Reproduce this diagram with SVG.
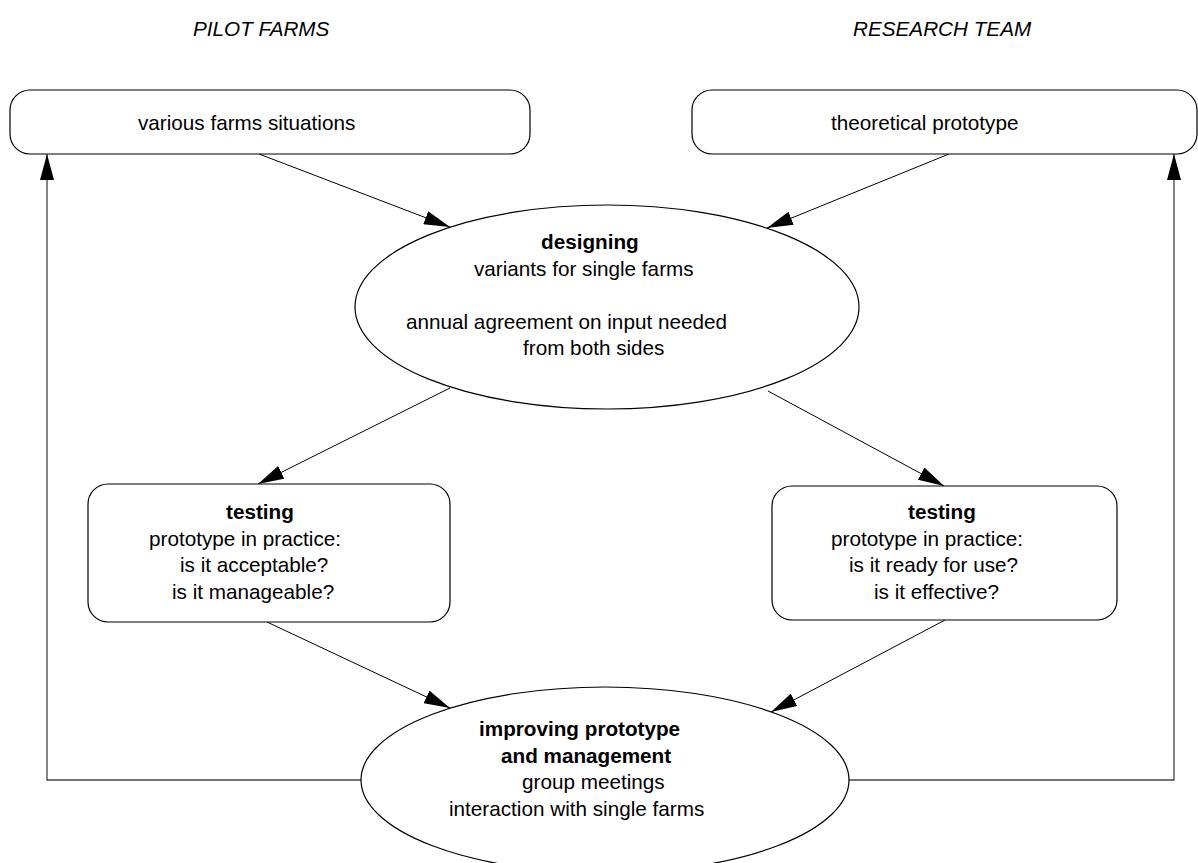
<svg xmlns="http://www.w3.org/2000/svg" width="1198" height="863" viewBox="0 0 1198 863">
<style>
text{font-family:"Liberation Sans",Arial,sans-serif;font-size:20.7px;fill:#000}
.b{font-weight:bold}
.i{font-style:italic}
.n{fill:#fff;stroke:#000;stroke-width:1.2}
.c{fill:none;stroke:#000;stroke-width:1}
.f{fill:none;stroke:#444;stroke-width:1.3}
</style>
<defs>
<marker id="a" viewBox="0 0 26 14" refX="26" refY="7" markerWidth="26" markerHeight="14" markerUnits="userSpaceOnUse" orient="auto"><path d="M0,0 L26,7 L0,14 Z" fill="#000"/></marker>
</defs>
<text class="i" x="193" y="36">PILOT FARMS</text>
<text class="i" x="853" y="36">RESEARCH TEAM</text>
<g id="connectors">
<line class="c" x1="259" y1="154" x2="450" y2="227" marker-end="url(#a)"/>
<line class="c" x1="949" y1="154" x2="767" y2="228" marker-end="url(#a)"/>
<line class="c" x1="450" y1="388" x2="258" y2="484" marker-end="url(#a)"/>
<line class="c" x1="768" y1="391" x2="944" y2="486" marker-end="url(#a)"/>
<line class="c" x1="267" y1="622" x2="450" y2="708" marker-end="url(#a)"/>
<line class="c" x1="945" y1="620" x2="771" y2="712" marker-end="url(#a)"/>
<polyline class="f" points="361,780 47,780 47,154" marker-end="url(#a)"/>
<polyline class="f" points="849,780 1174,780 1174,154" marker-end="url(#a)"/>
</g>
<g id="various">
<rect class="n" x="10" y="90" width="520" height="64" rx="20"/>
<text x="138" y="130">various farms situations</text>
</g>
<g id="theoretical">
<rect class="n" x="692" y="90" width="505" height="64" rx="20"/>
<text x="831" y="130">theoretical prototype</text>
</g>
<g id="designing">
<ellipse class="n" cx="607" cy="307" rx="252" ry="102"/>
<text class="b" x="541" y="249">designing</text>
<text x="474" y="275.5">variants for single farms</text>
<text x="406" y="328.5">annual agreement on input needed</text>
<text x="523" y="355">from both sides</text>
</g>
<g id="testing-left">
<rect class="n" x="88" y="484" width="362" height="138" rx="20"/>
<text class="b" x="226" y="519">testing</text>
<text x="149" y="545.5">prototype in practice:</text>
<text x="180" y="572">is it acceptable?</text>
<text x="172" y="598.5">is it manageable?</text>
</g>
<g id="testing-right">
<rect class="n" x="772" y="486" width="345" height="134" rx="20"/>
<text class="b" x="908" y="519">testing</text>
<text x="831" y="545.5">prototype in practice:</text>
<text x="849" y="572">is it ready for use?</text>
<text x="874" y="598.5">is it effective?</text>
</g>
<g id="improving">
<ellipse class="n" cx="605" cy="780" rx="244" ry="93"/>
<text class="b" x="479" y="736">improving prototype</text>
<text class="b" x="501" y="762.5">and management</text>
<text x="522" y="789">group meetings</text>
<text x="449" y="815.5">interaction with single farms</text>
</g>
</svg>
